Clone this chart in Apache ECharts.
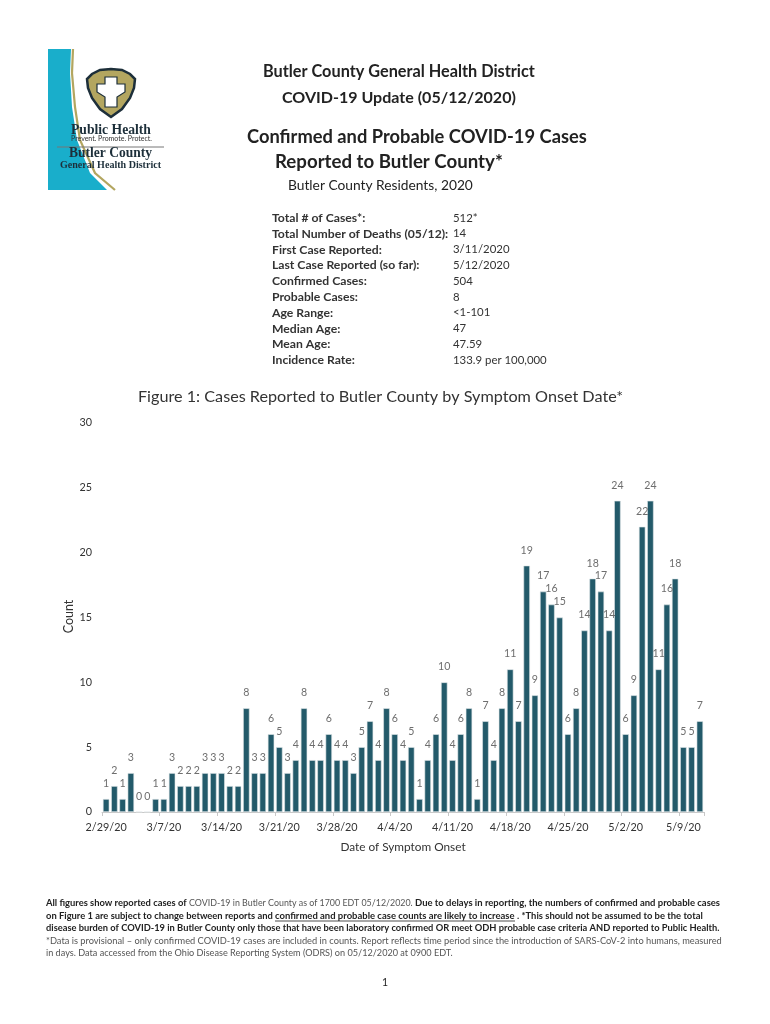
<!DOCTYPE html>
<html><head><meta charset="utf-8">
<style>html,body{margin:0;padding:0;background:#fff}#c{width:770px;height:1024px}</style>
<script src="https://cdn.jsdelivr.net/npm/echarts@6/dist/echarts.min.js"></script>
</head><body><div id="c"></div>
<script>
const onsetDates = ['2/29/20','3/1/20','3/2/20','3/3/20','3/4/20','3/5/20','3/6/20','3/7/20','3/8/20','3/9/20','3/10/20','3/11/20','3/12/20','3/13/20','3/14/20','3/15/20','3/16/20','3/17/20','3/18/20','3/19/20','3/20/20','3/21/20','3/22/20','3/23/20','3/24/20','3/25/20','3/26/20','3/27/20','3/28/20','3/29/20','3/30/20','3/31/20','4/1/20','4/2/20','4/3/20','4/4/20','4/5/20','4/6/20','4/7/20','4/8/20','4/9/20','4/10/20','4/11/20','4/12/20','4/13/20','4/14/20','4/15/20','4/16/20','4/17/20','4/18/20','4/19/20','4/20/20','4/21/20','4/22/20','4/23/20','4/24/20','4/25/20','4/26/20','4/27/20','4/28/20','4/29/20','4/30/20','5/1/20','5/2/20','5/3/20','5/4/20','5/5/20','5/6/20','5/7/20','5/8/20','5/9/20','5/10/20','5/11/20'];
const caseCounts = [1,2,1,3,0,0,1,1,3,2,2,2,3,3,3,2,2,8,3,3,6,5,3,4,8,4,4,6,4,4,3,5,7,4,8,6,4,5,1,4,6,10,4,6,8,1,7,4,8,11,7,19,9,17,16,15,6,8,14,18,17,14,24,6,9,22,24,11,16,18,5,5,7];
const summaryLabels = ['Total # of Cases*:','Total Number of Deaths (05/12):','First Case Reported:','Last Case Reported (so far):','Confirmed Cases:','Probable Cases:','Age Range:','Median Age:','Mean Age:','Incidence Rate:'];
const summaryValues = ['512*','14','3/11/2020','5/12/2020','504','8','<1-101','47','47.59','133.9 per 100,000'];

const FONT = 'Lato, Carlito, "Open Sans", sans-serif';
const txt = (x,y,text,size,o={}) => ({type:'text',x,y,silent:true,z:10,style:{text,font:`${o.bold?'bold ':''}${size}px ${o.family||FONT}`,fill:o.fill||'#222',textAlign:o.align||'left',textVerticalAlign:'middle'}});
const ctx = document.createElement('canvas').getContext('2d');
// Text run sized so that it spans x1..x2, as the reference's run does.
const fit = (x1,x2,y,text,o={}) => {
  ctx.font = `${o.bold?'bold ':''}100px ${o.family||FONT}`;
  const size = 100*(x2-x1)/ctx.measureText(text).width;
  return txt(x1,y,text,+size.toFixed(2),o);
};
const INK='#222', SOFT='#555', NAVY='#1d2f3a', SERIF='"Liberation Serif"';

const graphics = [
  // logo
  {type:'polygon',z:5,shape:{points:[[48,49],[71,49],[70,73],[72,107],[77,140],[90,173],[107,190],[48,190]]},style:{fill:'#19aecb'}},
  {type:'polyline',z:6,shape:{points:[[73,49],[72,73],[75,107],[80,140],[95,173],[115,190]]},style:{fill:'none',stroke:'#b3a660',lineWidth:2.2}},
  {type:'polygon',z:6,shape:{points:[[111,69],[100,70],[92,74],[87,79],[88,88],[92,98],[100,109],[111,117],[122,109],[130,98],[134,88],[135,79],[130,74],[122,70]]},style:{fill:'#b3a660',stroke:NAVY,lineWidth:2.5}},
  {type:'polygon',z:7,shape:{points:[[105,77],[117,77],[117,84],[125,84],[125,92],[117,97],[117,107],[105,107],[105,97],[97,92],[97,84],[105,84]]},style:{fill:'#fff',stroke:NAVY,lineWidth:1.2}},
  {type:'line',z:8,shape:{x1:57,y1:147,x2:164,y2:147},style:{stroke:'#777',lineWidth:1}},
  fit(71,151,130,'Public Health',{bold:true,family:SERIF,fill:NAVY}),
  fit(71,152,139,'Prevent. Promote. Protect.',{fill:'#333'}),
  fit(69,152,154,'Butler County',{bold:true,family:SERIF,fill:NAVY}),
  fit(60,161,165,'General Health District',{bold:true,family:SERIF,fill:NAVY}),
  // headers
  fit(263,535,72,'Butler County General Health District',{bold:true}),
  fit(282,516,98,'COVID-19 Update (05/12/2020)',{bold:true}),
  fit(247,587,137,'Confirmed and Probable COVID-19 Cases',{bold:true}),
  fit(275,503,162,'Reported to Butler County*',{bold:true}),
  fit(288,473,186,'Butler County Residents, 2020',{}),
  fit(138,624,397,'Figure 1: Cases Reported to Butler County by Symptom Onset Date*',{fill:'#333'}),
  // footnote
  fit(46,187,903,'All figures show reported cases of',{bold:true,fill:INK}),
  fit(189,413,903,'COVID-19 in Butler County as of 1700 EDT 05/12/2020.',{fill:SOFT}),
  fit(415,720,903,'Due to delays in reporting, the numbers of confirmed and probable cases',{bold:true,fill:INK}),
  fit(46,273,916,'on Figure 1 are subject to change between reports and',{bold:true,fill:INK}),
  fit(275,515,916,'confirmed and probable case counts are likely to increase',{bold:true,fill:INK}),
  fit(517,703,916,'. *This should not be assumed to be the total',{bold:true,fill:INK}),
  fit(46,720,928,'disease burden of COVID-19 in Butler County only those that have been laboratory confirmed OR meet ODH probable case criteria AND reported to Public Health.',{bold:true,fill:INK}),
  fit(46,723,941,'*Data is provisional – only confirmed COVID-19 cases are included in counts. Report reflects time period since the introduction of SARS-CoV-2 into humans, measured',{fill:SOFT}),
  fit(46,453,953.5,'in days. Data accessed from the Ohio Disease Reporting System (ODRS) on 05/12/2020 at 0900 EDT.',{fill:SOFT}),
  {type:'line',z:10,shape:{x1:275,y1:921,x2:515,y2:921},style:{stroke:INK,lineWidth:0.8}},
  txt(385,983,'1',10.5,{align:'center'}),
];
summaryLabels.forEach((s,i)=>{
  graphics.push(txt(272,218+i*15.8,s,12.2,{bold:true,fill:'#333'}));
  graphics.push(txt(453,218+i*15.8,summaryValues[i],11.4,{fill:'#333'}));
});

const chart = echarts.init(document.getElementById('c'),null,{renderer:'canvas'});
chart.setOption({
  animation:false,
  backgroundColor:'#fff',
  textStyle:{fontFamily:FONT},
  graphic:graphics,
  grid:{left:102,top:423,width:602,height:389,containLabel:false},
  xAxis:{type:'category',data:onsetDates,
    name:'Date of Symptom Onset',nameLocation:'middle',nameGap:29,nameTextStyle:{fontSize:11.8,color:'#333',fontFamily:FONT},
    axisLine:{lineStyle:{color:'#c8c8c8'}},
    axisTick:{show:true,interval:6,length:4,lineStyle:{color:'#c8c8c8'}},
    axisLabel:{interval:6,color:'#333',fontSize:10.8,margin:10,fontFamily:FONT,hideOverlap:false}},
  yAxis:{type:'value',min:0,max:30,interval:5,
    name:'Count',nameLocation:'middle',nameGap:27,nameMoveOverlap:false,nameRotate:90,nameTextStyle:{fontSize:12.5,color:'#333',fontFamily:FONT,padding:[0,0,0,2]},
    axisLine:{show:false},axisTick:{show:false},splitLine:{show:false},
    axisLabel:{color:'#333',fontSize:10.8,margin:10,fontFamily:FONT}},
  series:[{type:'bar',data:caseCounts,barWidth:'78%',
    itemStyle:{color:'#235a6a',borderColor:'#dfe6e8',borderWidth:0.6},
    label:{show:true,position:'top',distance:10,color:'#6e6e6e',fontSize:10.6,fontFamily:FONT}}]
});
</script></body></html>
